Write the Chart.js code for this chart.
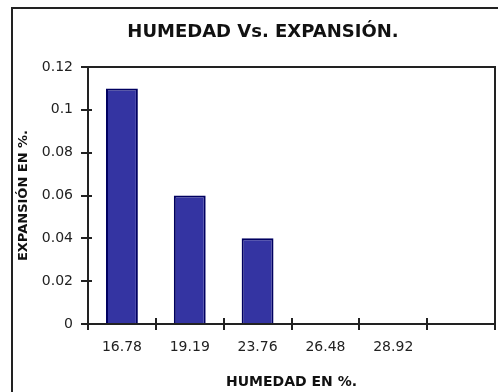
<!DOCTYPE html>
<html>
<head>
<meta charset="utf-8">
<script src="https://cdn.jsdelivr.net/npm/chart.js@4/dist/chart.umd.min.js"></script>
<style>
  html, body { margin: 0; padding: 0; background: #fff; overflow: hidden; width: 498px; height: 392px; }
  #frame { position: absolute; left: 11px; top: 7px; width: 500px; height: 390px; border: 2px solid #222; background: #fff; }
  #frame canvas { position: absolute; left: 0; top: 0; }
</style>
</head>
<body>
<div id="frame"><canvas id="c" width="500" height="383"></canvas></div>
<script>
// Humidity (%) categories and measured expansion (%)
const humedad = ['16.78', '19.19', '23.76', '26.48', '28.92', ''];
const expansion = [0.11, 0.06, 0.04, 0, 0, null];
const yTickLabels = ['0', '0.02', '0.04', '0.06', '0.08', '0.1', '0.12'];

const FONT = "'DejaVu Sans', sans-serif";
const INK = '#222';

// Plot frame (top/right sides) plus the inner half of the crossing tick marks
const framePlugin = {
  id: 'frameTicks',
  afterDraw(chart) {
    const { ctx, chartArea: a, scales } = chart;
    ctx.save();
    ctx.strokeStyle = INK;
    ctx.lineWidth = 2;
    ctx.strokeRect(a.left, a.top, a.right - a.left, a.bottom - a.top);
    ctx.beginPath();
    scales.y.ticks.forEach((t, i) => {
      const py = Math.round(scales.y.getPixelForTick(i));
      ctx.moveTo(a.left, py);
      ctx.lineTo(a.left + 4, py);
    });
    const xs = scales.x;
    const half = (xs.getPixelForTick(1) - xs.getPixelForTick(0)) / 2;
    for (let i = 0; i <= xs.ticks.length; i++) {
      const px = Math.round(xs.getPixelForTick(0) - half + 2 * half * i);
      ctx.moveTo(px, a.bottom);
      ctx.lineTo(px, a.bottom - 6);
    }
    ctx.stroke();
    ctx.restore();
  }
};

new Chart(document.getElementById('c'), {
  type: 'bar',
  data: {
    labels: humedad,
    datasets: [{
      data: expansion,
      backgroundColor: '#3434a2',
      borderColor: '#000060',
      borderWidth: 2,
      borderSkipped: 'bottom',
      categoryPercentage: 1,
      barPercentage: 0.47
    }]
  },
  options: {
    responsive: false,
    animation: false,
    layout: { padding: { left: 18, right: 18, top: 0, bottom: 0 } },
    plugins: {
      legend: { display: false },
      tooltip: { enabled: false },
      title: {
        display: true,
        text: 'HUMEDAD Vs. EXPANSIÓN.',
        color: '#111',
        font: { family: FONT, size: 18, weight: 'bold' },
        padding: { top: 12.2, bottom: 24.2 }
      }
    },
    scales: {
      x: {
        offset: true,
        grid: { offset: true, drawOnChartArea: false, drawTicks: true, tickLength: 6, color: INK, lineWidth: 2 },
        border: { display: true, color: INK, width: 2 },
        ticks: { color: INK, font: { family: FONT, size: 14 }, padding: 8.6, maxRotation: 0, autoSkip: false },
        title: {
          display: true,
          text: 'HUMEDAD EN %.',
          color: '#111',
          font: { family: FONT, size: 14, weight: 'bold' },
          padding: { top: 0, bottom: 1.6 }
        },
        afterFit(s) { s.height = 68; }
      },
      y: {
        min: 0,
        max: 0.12,
        grid: { drawOnChartArea: false, drawTicks: true, tickLength: 7, color: INK, lineWidth: 2 },
        border: { display: true, color: INK, width: 2 },
        ticks: {
          stepSize: 0.02,
          color: INK,
          font: { family: FONT, size: 14 },
          padding: 8,
          callback: (v, i) => yTickLabels[i]
        },
        title: {
          display: true,
          text: 'EXPANSIÓN EN %.',
          color: '#111',
          font: { family: FONT, size: 13, weight: 'bold' },
          padding: { top: -14.8, bottom: 0 }
        },
        afterFit(s) { s.width = 57; }
      }
    }
  },
  plugins: [framePlugin]
});
</script>
</body>
</html>
